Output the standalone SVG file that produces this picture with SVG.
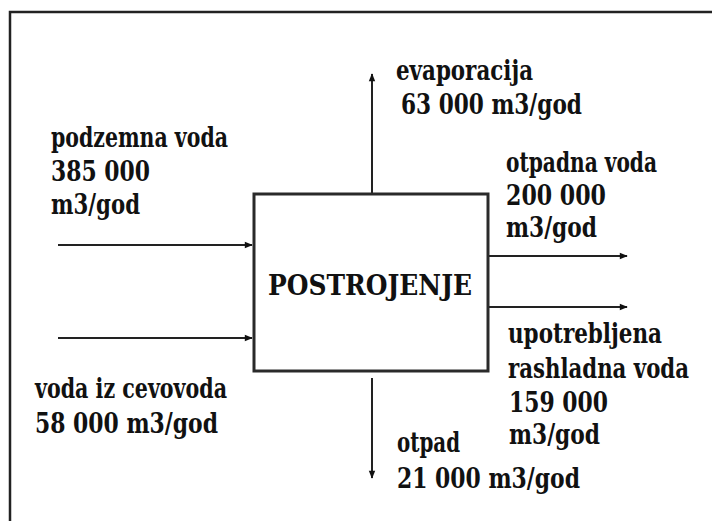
<svg xmlns="http://www.w3.org/2000/svg" width="712" height="521" viewBox="0 0 712 521">
  <style>
    .lbl { font-family: "DejaVu Serif", "Liberation Serif", serif; font-weight: bold; font-size: 27px; fill: #111; }
    .edge { stroke: #222; stroke-width: 2; fill: none; }
    .frame { stroke: #222; stroke-width: 2.5; fill: #fff; }
    .box { stroke: #2a2a2a; stroke-width: 3; fill: #fff; }
  </style>
  <defs>
    <marker id="arr" viewBox="0 0 10 10" refX="9" refY="5" markerWidth="9" markerHeight="8" markerUnits="userSpaceOnUse" orient="auto">
      <path d="M0,1 L10,5 L0,9 Z" fill="#111"/>
    </marker>
  </defs>

  <rect width="712" height="521" fill="#fff"/>
  <!-- outer frame, running off the right and bottom edges -->
  <rect class="frame" x="10" y="12" width="800" height="600"/>

  <!-- connectors -->
  <g id="connectors">
    <line class="edge" x1="58" y1="245" x2="252" y2="245" marker-end="url(#arr)"/>
    <line class="edge" x1="58" y1="338" x2="252" y2="338" marker-end="url(#arr)"/>
    <line class="edge" x1="372" y1="194" x2="372" y2="74" marker-end="url(#arr)"/>
    <line class="edge" x1="488" y1="256" x2="627" y2="256" marker-end="url(#arr)"/>
    <line class="edge" x1="488" y1="307" x2="627" y2="307" marker-end="url(#arr)"/>
    <line class="edge" x1="372" y1="378" x2="372" y2="478" marker-end="url(#arr)"/>
  </g>

  <g id="postrojenje">
    <rect class="box" x="254" y="194" width="234" height="177"/>
    <text class="lbl" x="268" y="295" textLength="204" lengthAdjust="spacingAndGlyphs">POSTROJENJE</text>
  </g>

  <g id="podzemna-voda">
    <text class="lbl" x="51" y="147" textLength="177" lengthAdjust="spacingAndGlyphs">podzemna voda</text>
    <text class="lbl" x="51" y="181" textLength="99" lengthAdjust="spacingAndGlyphs">385 000</text>
    <text class="lbl" x="51" y="214" textLength="89" lengthAdjust="spacingAndGlyphs">m3/god</text>
  </g>

  <g id="voda-iz-cevovoda">
    <text class="lbl" x="35" y="398" textLength="192" lengthAdjust="spacingAndGlyphs">voda iz cevovoda</text>
    <text class="lbl" x="35" y="433" textLength="183" lengthAdjust="spacingAndGlyphs">58 000 m3/god</text>
  </g>

  <g id="evaporacija">
    <text class="lbl" x="396" y="80" textLength="137" lengthAdjust="spacingAndGlyphs">evaporacija</text>
    <text class="lbl" x="401" y="114" textLength="181" lengthAdjust="spacingAndGlyphs">63 000 m3/god</text>
  </g>

  <g id="otpadna-voda">
    <text class="lbl" x="506" y="172" textLength="151" lengthAdjust="spacingAndGlyphs">otpadna voda</text>
    <text class="lbl" x="506" y="205" textLength="100" lengthAdjust="spacingAndGlyphs">200 000</text>
    <text class="lbl" x="506" y="237" textLength="91" lengthAdjust="spacingAndGlyphs">m3/god</text>
  </g>

  <g id="rashladna-voda">
    <text class="lbl" x="508" y="343" textLength="154" lengthAdjust="spacingAndGlyphs">upotrebljena</text>
    <text class="lbl" x="508" y="378" textLength="181" lengthAdjust="spacingAndGlyphs">rashladna voda</text>
    <text class="lbl" x="509" y="412" textLength="99" lengthAdjust="spacingAndGlyphs">159 000</text>
    <text class="lbl" x="509" y="444" textLength="91" lengthAdjust="spacingAndGlyphs">m3/god</text>
  </g>

  <g id="otpad">
    <text class="lbl" x="397" y="452" textLength="63" lengthAdjust="spacingAndGlyphs">otpad</text>
    <text class="lbl" x="397" y="488" textLength="183" lengthAdjust="spacingAndGlyphs">21 000 m3/god</text>
  </g>
</svg>
